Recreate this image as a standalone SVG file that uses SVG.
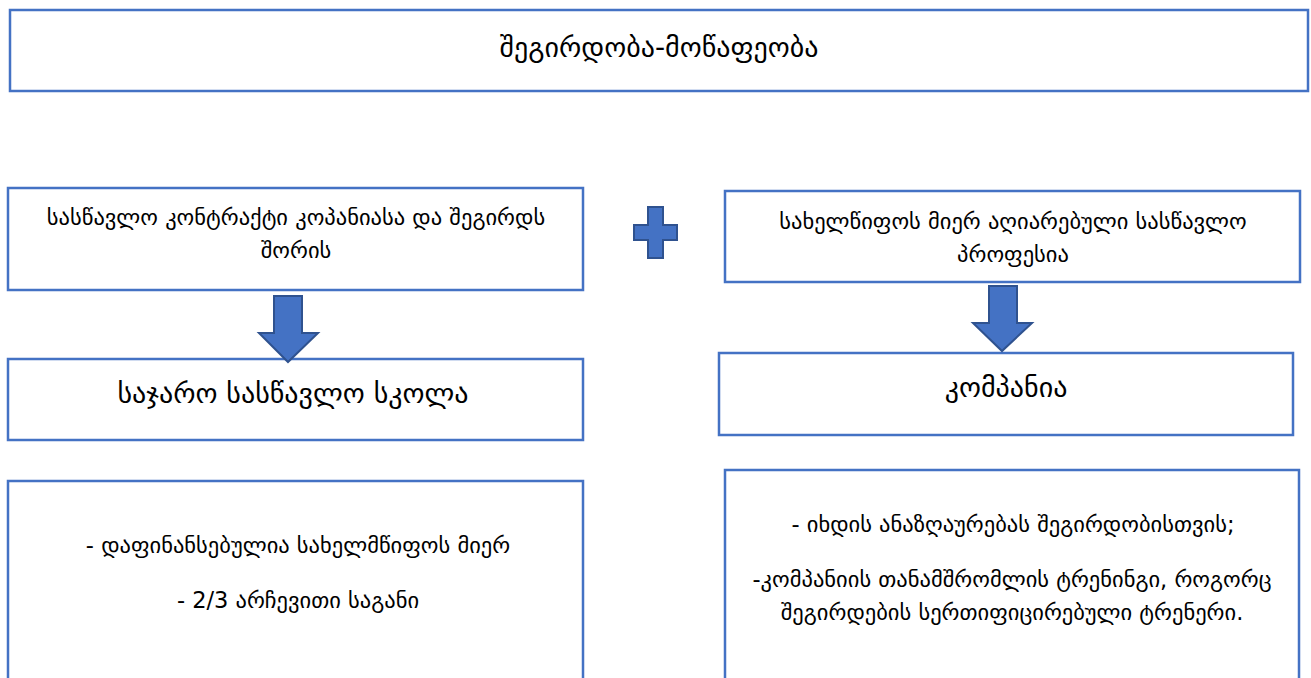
<svg xmlns="http://www.w3.org/2000/svg" width="1311" height="678" viewBox="0 0 1311 678">
<style>
.box{fill:#fff;stroke:#4472C4;stroke-width:2.5}
.arr{fill:#4472C4;stroke:#2F528F;stroke-width:2}
text{font-family:"DejaVu Sans","Noto Sans",sans-serif;fill:#000;text-anchor:middle}
.t18{font-size:22.5px}
.t22{font-size:28px}
</style>
<rect width="1311" height="678" fill="#fff"/>
<g id="top">
<rect class="box" x="10" y="10" width="1298" height="81"/>
<text class="t22" x="659" y="57">შეგირდობა-მოწაფეობა</text>
</g>
<g id="contract">
<rect class="box" x="8" y="188" width="575" height="102"/>
<text class="t18" x="296" y="225">სასწავლო კონტრაქტი კოპანიასა და შეგირდს</text>
<text class="t18" x="296" y="258">შორის</text>
</g>
<g id="plus">
<path class="arr" d="M648,207 H663 V225 H677 V240 H663 V258 H648 V240 H634 V225 H648 Z"/>
</g>
<g id="profession">
<rect class="box" x="725" y="191" width="575" height="91"/>
<text class="t18" x="1013" y="229">სახელწიფოს მიერ აღიარებული სასწავლო</text>
<text class="t18" x="1013" y="262">პროფესია</text>
</g>
<g id="school">
<rect class="box" x="8" y="359" width="575" height="81"/>
<text class="t22" x="293" y="403">საჯარო სასწავლო სკოლა</text>
</g>
<g id="company">
<rect class="box" x="719" y="353" width="574" height="82"/>
<text class="t22" x="1006" y="397">კომპანია</text>
</g>
<g id="school-details">
<rect class="box" x="8" y="481" width="575" height="220"/>
<text class="t18" x="298" y="553">- დაფინანსებულია სახელმწიფოს მიერ</text>
<text class="t18" x="298" y="608">- 2/3 არჩევითი საგანი</text>
</g>
<g id="company-details">
<rect class="box" x="725" y="470" width="574" height="230"/>
<text class="t18" x="1013" y="532">- იხდის ანაზღაურებას შეგირდობისთვის;</text>
<text class="t18" x="1012" y="587">-კომპანიის თანამშრომლის ტრენინგი, როგორც</text>
<text class="t18" x="1012" y="620">შეგირდების სერთიფიცირებული ტრენერი.</text>
</g>
<g id="connectors">
<path class="arr" d="M274,296 H302 V333 H318 L288,362 L259,333 H274 Z"/>
<path class="arr" d="M989,286 H1017 V323 H1032 L1002,351 L973,323 H989 Z"/>
</g>
</svg>
